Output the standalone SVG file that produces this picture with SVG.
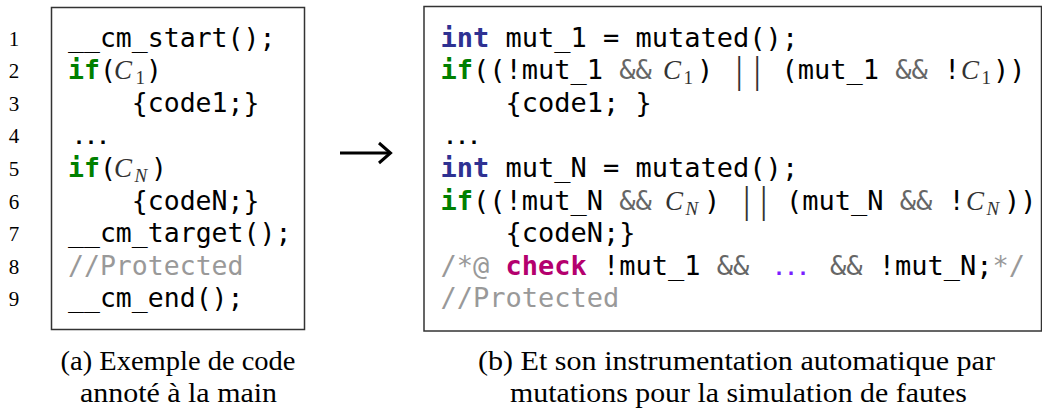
<svg xmlns="http://www.w3.org/2000/svg" width="1042" height="411" viewBox="0 0 1042 411">
<style>
.box{fill:#fff;stroke:#333;stroke-width:1.5}
.ln{font-family:"Liberation Serif",serif;font-size:21px;fill:#000;text-anchor:middle}
.cl{font-family:"DejaVu Sans Mono",monospace;font-size:26.5px;fill:#000}
.cr{font-family:"DejaVu Sans Mono",monospace;font-size:27px;fill:#000}
.kw{fill:#008000;font-weight:bold}
.ty{fill:#2e3192;font-weight:bold}
.ck{fill:#b4006e;font-weight:bold}
.dots{font-family:"DejaVu Sans Mono",monospace;font-size:20px;font-weight:bold;fill:#000}
.pdots{fill:#7a1fff;font-weight:bold}
.cm{fill:#999}
.op{fill:#666}
.m{font-family:"Liberation Serif",serif;font-style:italic;font-size:27px;fill:#333}
.sub{font-family:"Liberation Serif",serif;font-size:19px;fill:#333}
.subi{font-family:"Liberation Serif",serif;font-style:italic;font-size:19px;fill:#333}
.bar{font-family:"Liberation Serif",serif;font-size:37px;fill:#333}
.cap{font-family:"Liberation Serif",serif;font-size:28px;fill:#000;text-anchor:middle}
.arr{fill:none;stroke:#000;stroke-width:3}
</style>

<g id="listing-a">
  <rect class="box" x="51.5" y="7.5" width="253" height="322"/>
  <text class="ln" x="14" y="45.5">1</text>
  <text class="ln" x="14" y="78.1">2</text>
  <text class="ln" x="14" y="110.7">3</text>
  <text class="ln" x="14" y="143.3">4</text>
  <text class="ln" x="14" y="175.9">5</text>
  <text class="ln" x="14" y="208.5">6</text>
  <text class="ln" x="14" y="241.1">7</text>
  <text class="ln" x="14" y="273.7">8</text>
  <text class="ln" x="14" y="306.3">9</text>
  <text class="cl" x="68" y="46.5">__cm_start();</text>
  <text class="cl" x="68" y="79.1"><tspan class="kw">if</tspan>(<tspan class="m" x="114">C</tspan><tspan class="sub" x="135.5" y="84.1">1</tspan><tspan x="146" y="79.1">)</tspan></text>
  <text class="cl" x="131.8" y="111.7">{code1;}</text>
  <text class="dots" x="73" y="144.3">...</text>
  <text class="cl" x="68" y="176.9"><tspan class="kw">if</tspan>(<tspan class="m" x="114">C</tspan><tspan class="subi" x="134.5" y="181.9">N</tspan><tspan x="151" y="176.9">)</tspan></text>
  <text class="cl" x="131.8" y="209.5">{codeN;}</text>
  <text class="cl" x="68" y="242.1">__cm_target();</text>
  <text class="cl cm" x="68" y="274.7">//Protected</text>
  <text class="cl" x="68" y="307.3">__cm_end();</text>
</g>

<g id="connectors">
  <g id="arrow">
    <path class="arr" d="M340,153 H390"/>
    <path class="arr" d="M379,143 L390.5,153 L379,163"/>
  </g>
</g>

<g id="listing-b">
  <rect class="box" x="424" y="6.5" width="617.5" height="324.5"/>
  <text class="cr" x="440.5" y="46.5"><tspan class="ty">int</tspan> mut_1 = mutated();</text>
  <text class="cr" x="440.5" y="79.1"><tspan class="kw">if</tspan>((!mut_1 <tspan class="op">&amp;&amp;</tspan><tspan class="m" x="663">C</tspan><tspan class="sub" x="683.5" y="84.1">1</tspan><tspan x="697" y="79.1">)</tspan><tspan class="bar" x="735.5" y="83">|</tspan><tspan class="bar" x="753.5" y="83">|</tspan><tspan x="781.5" y="79.1">(mut_1 <tspan class="op">&amp;&amp;</tspan> !</tspan><tspan class="m" x="961">C</tspan><tspan class="sub" x="981.5" y="84.1">1</tspan><tspan x="993" y="79.1">))</tspan></text>
  <text class="cr" x="505.5" y="111.7">{code1; }</text>
  <text class="dots" x="444" y="144.3">...</text>
  <text class="cr" x="440.5" y="176.9"><tspan class="ty">int</tspan> mut_N = mutated();</text>
  <text class="cr" x="440.5" y="209.5"><tspan class="kw">if</tspan>((!mut_N <tspan class="op">&amp;&amp;</tspan><tspan class="m" x="665">C</tspan><tspan class="subi" x="685.5" y="214.5">N</tspan><tspan x="704" y="209.5">)</tspan><tspan class="bar" x="743" y="213.4">|</tspan><tspan class="bar" x="760" y="213.4">|</tspan><tspan x="786" y="209.5">(mut_N <tspan class="op">&amp;&amp;</tspan> !</tspan><tspan class="m" x="966">C</tspan><tspan class="subi" x="986.5" y="214.5">N</tspan><tspan x="1004" y="209.5">))</tspan></text>
  <text class="cr" x="505.5" y="242.1">{codeN;}</text>
  <text class="cr" x="440.5" y="274.7"><tspan class="cm">/*@ </tspan><tspan class="ck">check</tspan> !mut_1 <tspan class="op">&amp;&amp;</tspan><tspan class="dots pdots" x="773">...</tspan><tspan class="op" x="830">&amp;&amp;</tspan> !mut_N;<tspan class="cm">*/</tspan></text>
  <text class="cr cm" x="440.5" y="307.3">//Protected</text>
</g>

<g id="caption-a">
  <text class="cap" x="178" y="370" textLength="235" lengthAdjust="spacingAndGlyphs">(a) Exemple de code</text>
  <text class="cap" x="178.5" y="402" textLength="197" lengthAdjust="spacingAndGlyphs">annoté à la main</text>
</g>
<g id="caption-b">
  <text class="cap" x="736.5" y="370" textLength="517" lengthAdjust="spacingAndGlyphs">(b) Et son instrumentation automatique par</text>
  <text class="cap" x="738.5" y="402" textLength="457" lengthAdjust="spacingAndGlyphs">mutations pour la simulation de fautes</text>
</g>
</svg>
